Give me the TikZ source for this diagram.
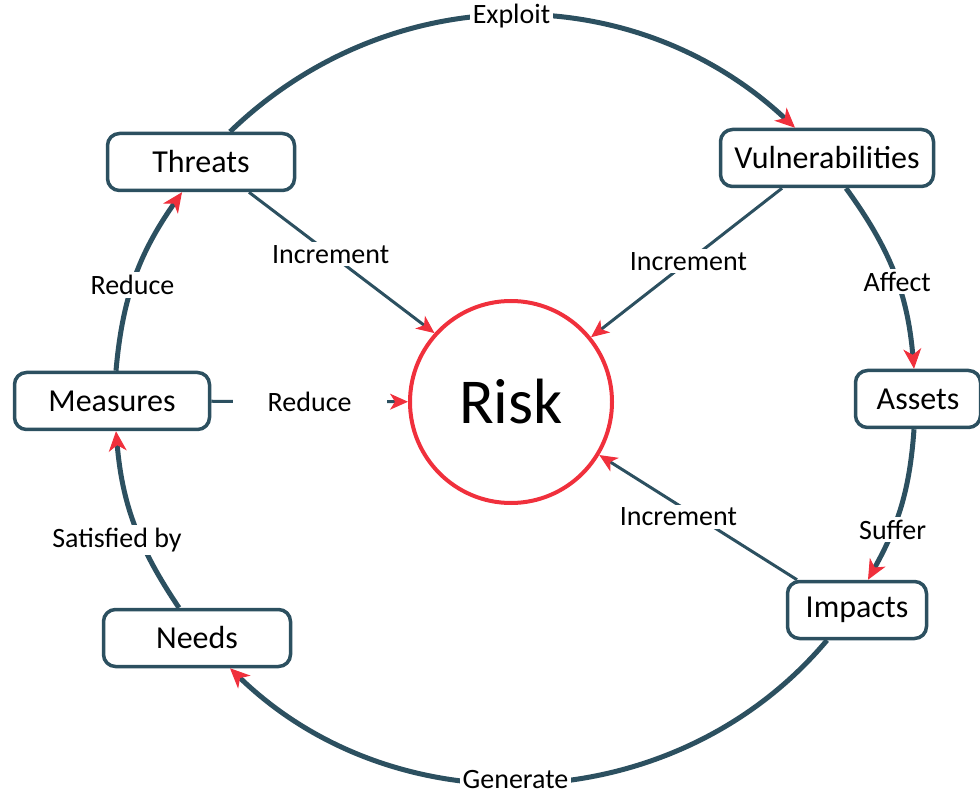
\documentclass[tikz,border=0pt]{standalone}
\usepackage{fontspec}
\setmainfont{Carlito}
\usetikzlibrary{arrows.meta}
\definecolor{ringblue}{RGB}{44,80,96}
\definecolor{riskred}{RGB}{240,48,60}

\begin{document}
\begin{tikzpicture}[x=1pt,y=1pt,
    box/.style={draw=ringblue,line width=3.5pt,rounded corners=12pt,fill=white,minimum height=57pt,inner sep=0pt,font=\fontsize{32}{38}\selectfont},
    lbl/.style={fill=white,inner sep=3pt,font=\fontsize{28}{34}\selectfont},
    ring/.style={draw=ringblue,line width=5pt,-{Stealth[color=riskred,line width=1pt,length=20pt,width=18pt,inset=6pt]}},
    link/.style={draw=ringblue,line width=3pt,-{Stealth[color=riskred,line width=1pt,length=18pt,width=16pt,inset=5pt]}}]
    \useasboundingbox (0,0) rectangle (980,796);

    \node[box,minimum width=187pt] (threats) at (201,634) {Threats};
    \node[box,minimum width=213pt] (vuln) at (827,638) {Vulnerabilities};
    \node[box,minimum width=125pt] (assets) at (918,397) {Assets};
    \node[box,minimum width=195pt] (measures) at (112,395) {Measures};
    \node[box,minimum width=139pt] (impacts) at (857,186) {Impacts};
    \node[box,minimum width=187pt] (needs) at (197,158) {Needs};
    \node[circle,draw=riskred,line width=4pt,minimum size=202pt,font=\fontsize{64}{70}\selectfont] (risk) at (511,394) {Risk};

    \draw[ring] ([xshift=29pt]threats.north) to[out=44,in=137] node[lbl] {Exploit} ([xshift=-32pt]vuln.north);
    \draw[ring] ([xshift=19pt]vuln.south) to[out=-54,in=95] node[lbl,pos=0.55] {Affect} ([xshift=-4pt]assets.north);
    \draw[ring] ([xshift=-4pt]assets.south) to[out=-94,in=61] node[lbl,pos=0.66] {Suffer} ([xshift=11pt]impacts.north);
    \draw[ring] ([xshift=-30pt]impacts.south) to[out=-130,in=-44] node[lbl,pos=0.53,yshift=3pt] {Generate} ([xshift=33pt]needs.south);
    \draw[ring] ([xshift=-18pt]needs.north) to[out=124,in=-85] node[lbl,pos=0.4,xshift=-24pt] {Satisfied by} ([xshift=4pt]measures.south);
    \draw[ring] ([xshift=4pt]measures.north) to[out=85,in=-125] node[lbl,pos=0.45] {Reduce} ([xshift=-19pt]threats.south);

    \draw[link] ([xshift=48pt]threats.south) -- node[lbl,pos=0.44] {Increment} (risk.138);
    \draw[link] ([xshift=-45pt]vuln.south) -- node[lbl,pos=0.49] {Increment} (risk.39);
    \draw[link] ([xshift=-60pt]impacts.north) -- node[lbl,pos=0.6,yshift=-12pt] {Increment} (risk.-31);
    \draw[link] (measures) -- node[lbl,inner xsep=35pt] {Reduce} (risk);
\end{tikzpicture}
\end{document}
